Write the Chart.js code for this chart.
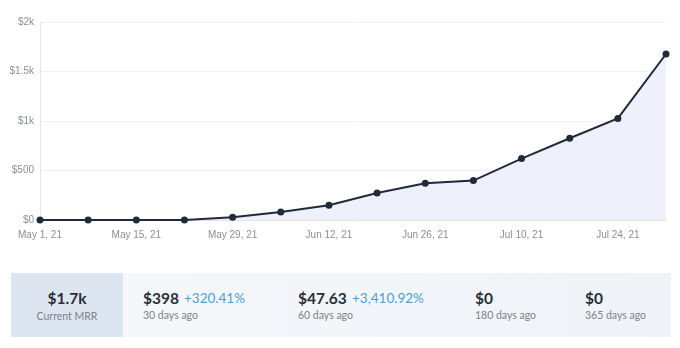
<!DOCTYPE html>
<html>
<head>
<meta charset="utf-8">
<script src="https://cdn.jsdelivr.net/npm/chart.js@4"></script>
<style>
  body { margin: 0; background: #fff; font-family: Lato, "Open Sans", sans-serif; }
  #wrap { position: relative; width: 680px; height: 348px; overflow: hidden; }
  #chart { position: absolute; left: 0; top: 0; }
  .bar { position: absolute; left: 11px; top: 273px; width: 660px; height: 64px;
         background: linear-gradient(90deg, #f6f8fb, #eff3f7); }
  .cur { position: absolute; left: 11px; top: 273px; width: 112px; height: 64px; background: #dce5f0; }
  .t { position: absolute; white-space: nowrap; }
  .val { font-size: 15.5px; font-weight: 700; color: #2a2f37; }
  .sub { font-size: 10.5px; color: #7c828b; }
  .pct { font-size: 13.5px; color: #4b9fd6; }
</style>
</head>
<body>
<div id="wrap">
  <canvas id="chart" width="680" height="251"></canvas>
  <div class="bar"></div>
  <div class="cur"></div>
  <span class="t val" style="left:11px;width:112px;text-align:center;top:289px">$1.7k</span>
  <span class="t sub" style="left:11px;width:112px;text-align:center;top:310px">Current MRR</span>

  <span class="t val" style="left:143px;top:289px">$398</span>
  <span class="t pct" style="left:184px;top:290px">+320.41%</span>
  <span class="t sub" style="left:143px;top:309px">30 days ago</span>

  <span class="t val" style="left:298px;top:289px">$47.63</span>
  <span class="t pct" style="left:352px;top:290px">+3,410.92%</span>
  <span class="t sub" style="left:298px;top:309px">60 days ago</span>

  <span class="t val" style="left:475px;top:289px">$0</span>
  <span class="t sub" style="left:475px;top:309px">180 days ago</span>

  <span class="t val" style="left:585px;top:289px">$0</span>
  <span class="t sub" style="left:585px;top:309px">365 days ago</span>
</div>
<script>
// weekly MRR snapshots
var dates = ['May 1, 21', 'May 8, 21', 'May 15, 21', 'May 22, 21', 'May 29, 21', 'Jun 5, 21', 'Jun 12, 21',
             'Jun 19, 21', 'Jun 26, 21', 'Jul 3, 21', 'Jul 10, 21', 'Jul 17, 21', 'Jul 24, 21', 'Jul 31, 21'];
var mrr = [0, 0, 0, 0, 28, 80, 150, 272, 372, 398, 620, 826, 1026, 1677];
var yTicks = ['$0', '$500', '$1k', '$1.5k', '$2k'];

var chart = new Chart(document.getElementById('chart'), {
    type: 'line',
    data: {
        labels: dates,
        datasets: [{
            data: mrr,
            borderColor: '#1f2b3b',
            borderWidth: 2,
            backgroundColor: '#eef1fb',
            fill: 'origin',
            tension: 0,
            clip: false,
            pointRadius: 3.5,
            pointBackgroundColor: '#1f2b3b',
            pointBorderColor: '#1f2b3b',
            pointBorderWidth: 0
        }]
    },
    options: {
        responsive: false,
        animation: false,
        layout: { padding: { top: 22, right: 14, left: 0, bottom: 0 } },
        plugins: { legend: { display: false }, tooltip: { enabled: false } },
        scales: {
            x: {
                offset: false,
                afterFit: function (s) { s.height = 31; },
                grid: { display: false, drawTicks: false },
                border: { color: '#e4e4e4' },
                ticks: {
                    autoSkip: false, maxRotation: 0, padding: 9,
                    color: '#8a8f96', font: { family: 'Liberation Sans', size: 10 },
                    callback: function (v, i) { return i % 2 === 0 ? dates[i] : ''; }
                }
            },
            y: {
                min: 0, max: 2000,
                afterFit: function (s) { s.width = 40; },
                grid: { color: '#f0f0f0', drawTicks: false },
                border: { color: '#e4e4e4' },
                ticks: {
                    stepSize: 500, padding: 6,
                    color: '#8a8f96', font: { family: 'Liberation Sans', size: 10 },
                    callback: function (v) { return yTicks[v / 500]; }
                }
            }
        }
    }
});
</script>
</body>
</html>
